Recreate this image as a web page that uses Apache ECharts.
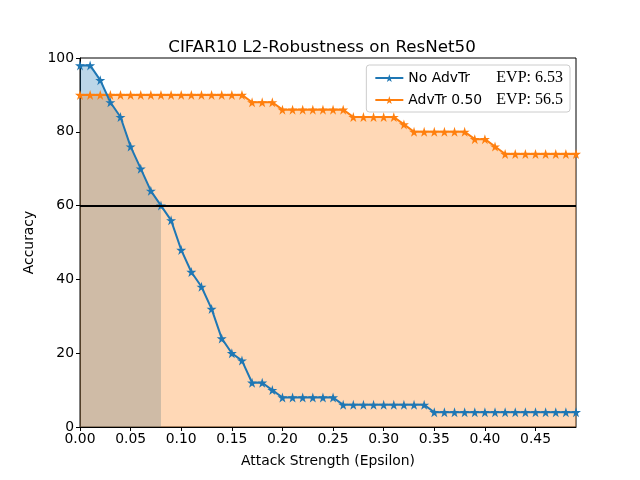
<!DOCTYPE html>
<html>
<head>
<meta charset="utf-8">
<script src="https://cdn.jsdelivr.net/npm/echarts@6/dist/echarts.min.js"></script>
<style>html,body{margin:0;padding:0;background:#fff}#c{width:640px;height:480px}</style>
</head>
<body>
<div id="c"></div>
<script>
const epsilons = [0.00,0.01,0.02,0.03,0.04,0.05,0.06,0.07,0.08,0.09,0.10,0.11,0.12,0.13,0.14,0.15,0.16,0.17,0.18,0.19,0.20,0.21,0.22,0.23,0.24,0.25,0.26,0.27,0.28,0.29,0.30,0.31,0.32,0.33,0.34,0.35,0.36,0.37,0.38,0.39,0.40,0.41,0.42,0.43,0.44,0.45,0.46,0.47,0.48,0.49];
const noAdvTr = [98,98,94,88,84,76,70,64,60,56,48,42,38,32,24,20,18,12,12,10,8,8,8,8,8,8,6,6,6,6,6,6,6,6,6,4,4,4,4,4,4,4,4,4,4,4,4,4,4,4];
const advTr050 = [90,90,90,90,90,90,90,90,90,90,90,90,90,90,90,90,90,88,88,88,86,86,86,86,86,86,86,84,84,84,84,84,82,80,80,80,80,80,80,78,78,76,74,74,74,74,74,74,74,74];
const seriesNames = ['No AdvTr','AdvTr 0.50'];
const evpLabels = ['EVP: 6.53','EVP: 56.5'];
const xTicks = [0,0.05,0.10,0.15,0.20,0.25,0.30,0.35,0.40,0.45];
const threshold = 60;
const blueFillCount = 9;

const blue = '#1f77b4', orange = '#ff7f0e';
const star = 'path://M50,0 L61,35 L98,35 L68,57 L79,91 L50,70 L21,91 L32,57 L2,35 L39,35 Z';
const pts = arr => arr.map((v,i)=>[epsilons[i], v]);
const font = 'DejaVu Sans';

const chart = echarts.init(document.getElementById('c'), null, {renderer:'canvas'});
chart.setOption({
  animation:false,
  backgroundColor:'#fff',
  title:{
    text:'CIFAR10 L2-Robustness on ResNet50',
    left:317, top:34, textAlign:'center',
    textStyle:{fontFamily:font, fontSize:16.7, fontWeight:'normal', color:'#000'}
  },
  grid:{left:80, right:64, top:58, bottom:53, show:true, borderColor:'#000', borderWidth:1, backgroundColor:'transparent'},
  legend:{
    data:seriesNames.map(n=>({name:n})),
    orient:'vertical', right:70, top:65,
    itemWidth:28, itemHeight:10, itemGap:6,
    backgroundColor:'rgba(255,255,255,0.8)', borderColor:'#cccccc', borderWidth:1, borderRadius:3,
    padding:[5,7,4,8],
    formatter: name => {
      const i = seriesNames.indexOf(name);
      return '{n|' + name + '}{e|' + evpLabels[i] + '}';
    },
    textStyle:{
      fontFamily:font, fontSize:13.9, color:'#000',
      rich:{
        n:{fontFamily:font, fontSize:13.9, width:88, color:'#000'},
        e:{fontFamily:'Liberation Serif', fontSize:16, color:'#000'}
      }
    }
  },
  xAxis:{
    type:'value', min:0, max:0.49,
    name:'Attack Strength (Epsilon)', nameLocation:'middle', nameGap:27,
    nameTextStyle:{fontFamily:font, fontSize:13.9, color:'#000'},
    axisLine:{show:true, onZero:false, lineStyle:{color:'#000', width:1}},
    axisTick:{show:true, length:4, inside:false, customValues:xTicks, lineStyle:{color:'#000'}},
    axisLabel:{customValues:xTicks, formatter:v=>v.toFixed(2), fontFamily:font, fontSize:13.9, color:'#000', margin:5},
    splitLine:{show:false}
  },
  yAxis:{
    type:'value', min:0, max:100, interval:20,
    name:'Accuracy', nameLocation:'middle', nameGap:44,
    nameTextStyle:{fontFamily:font, fontSize:13.9, color:'#000'},
    axisLine:{show:true, lineStyle:{color:'#000', width:1}},
    axisTick:{show:true, length:4, lineStyle:{color:'#000'}},
    axisLabel:{fontFamily:font, fontSize:13.9, color:'#000', margin:6},
    splitLine:{show:false}
  },
  series:[
    {
      name:'blueFill', type:'line', data:pts(noAdvTr.slice(0,blueFillCount)),
      symbol:'none', lineStyle:{opacity:0, width:0}, areaStyle:{color:blue, opacity:0.3},
      silent:true, z:1
    },
    {
      name:'orangeFill', type:'line', data:pts(advTr050),
      symbol:'none', lineStyle:{opacity:0, width:0}, areaStyle:{color:orange, opacity:0.3},
      silent:true, z:2,
      markLine:{silent:true, symbol:'none', label:{show:false},
        lineStyle:{color:'#000', width:2, type:'solid'}, data:[{yAxis:threshold}]}
    },
    {
      name:seriesNames[1], type:'line', data:pts(advTr050),
      symbol:star, symbolSize:10, showAllSymbol:true,
      itemStyle:{color:orange}, lineStyle:{color:orange, width:2}, z:3
    },
    {
      name:seriesNames[0], type:'line', data:pts(noAdvTr),
      symbol:star, symbolSize:10, showAllSymbol:true,
      itemStyle:{color:blue}, lineStyle:{color:blue, width:2}, z:4
    }
  ]
});
</script>
</body>
</html>
